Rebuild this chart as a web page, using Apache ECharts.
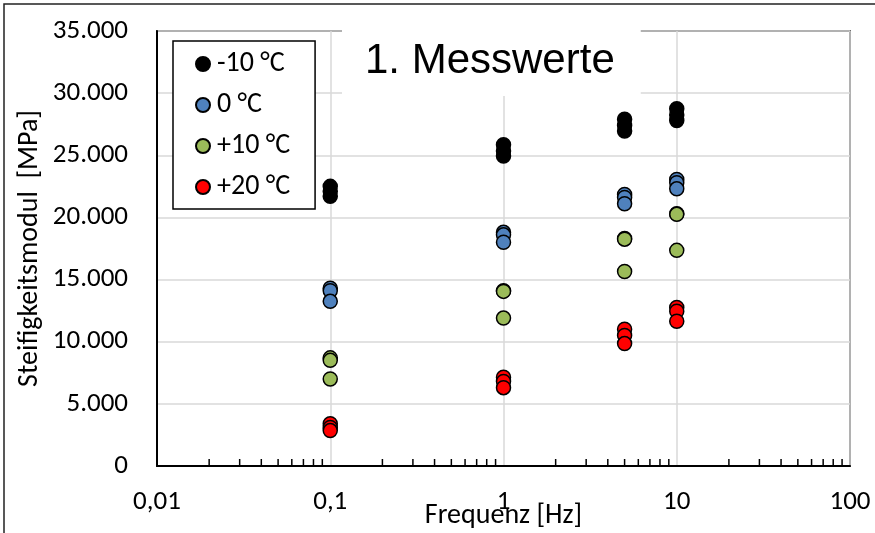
<!DOCTYPE html>
<html>
<head>
<meta charset="utf-8">
<script src="https://cdn.jsdelivr.net/npm/echarts@6/dist/echarts.min.js"></script>
<style>
  html, body { margin: 0; padding: 0; background: #fff; }
  #chart { width: 875px; height: 533px; }
</style>
</head>
<body>
<div id="chart"></div>
<script>
// Messwerte: [Frequenz Hz, Steifigkeitsmodul MPa]
var seriesNames = ['-10 °C', '0 °C', '+10 °C', '+20 °C'];
var seriesColors = ['#000000', '#4f81bd', '#9bbb59', '#ff0000'];

var minus10 = [[0.1, 22500], [0.1, 22100], [0.1, 21700],
               [1, 25850], [1, 25350], [1, 24950],
               [5, 27900], [5, 27400], [5, 26950],
               [10, 28750], [10, 28250], [10, 27800]];
var zero = [[0.1, 14300], [0.1, 14100], [0.1, 13250],
            [1, 18800], [1, 18600], [1, 18000],
            [5, 21850], [5, 21600], [5, 21100],
            [10, 23050], [10, 22800], [10, 22300]];
var plus10 = [[0.1, 8700], [0.1, 8500], [0.1, 7000],
              [1, 14100], [1, 14050], [1, 11900],
              [5, 18300], [5, 18250], [5, 15650],
              [10, 20300], [10, 20250], [10, 17350]];
var plus20 = [[0.1, 3400], [0.1, 3100], [0.1, 2850],
              [1, 7150], [1, 6800], [1, 6300],
              [5, 11000], [5, 10500], [5, 9850],
              [10, 12750], [10, 12450], [10, 11650]];

// kleine Teilstriche der log-Achse
var minorTickVals = [0.02, 0.03, 0.04, 0.05, 0.06, 0.07, 0.08, 0.09,
                     0.2, 0.3, 0.4, 0.5, 0.6, 0.7, 0.8, 0.9,
                     2, 3, 4, 5, 6, 7, 8, 9,
                     20, 30, 40, 50, 60, 70, 80, 90];

var font = "Carlito, 'Open Sans', sans-serif";
var chart = echarts.init(document.getElementById('chart'), null, { renderer: 'canvas' });

function scatter(name, data, color) {
  return {
    name: name,
    type: 'scatter',
    data: data,
    symbol: 'circle',
    symbolSize: 14,
    itemStyle: { color: color, borderColor: '#000', borderWidth: 1.5, opacity: 1 },
    z: 3
  };
}

var option = {
  backgroundColor: '#fff',
  animation: false,
  textStyle: { fontFamily: font },
  title: {
    text: '1. Messwerte',
    left: 342,
    top: 28,
    padding: [7, 26, 9, 23],
    backgroundColor: '#fff',
    textStyle: {
      fontFamily: "'Liberation Sans', Arial, sans-serif",
      fontSize: 42,
      fontWeight: 'normal',
      color: '#000',
      lineHeight: 52
    },
    z: 10
  },
  legend: {
    data: seriesNames,
    orient: 'vertical',
    left: 173,
    top: 41,
    padding: [9, 25, 8, 22],
    itemGap: 13,
    itemWidth: 14,
    itemHeight: 14,
    backgroundColor: '#fff',
    borderColor: '#000',
    borderWidth: 1.5,
    borderRadius: 0,
    textStyle: { fontFamily: font, fontSize: 28, color: '#000', padding: [0, 0, 0, 2] }
  },
  grid: {
    left: 157,
    right: 25,
    top: 31,
    bottom: 67,
    show: true,
    borderColor: '#000',
    borderWidth: 1.5,
    outerBoundsMode: 'none',
    containLabel: false
  },
  xAxis: {
    type: 'log',
    logBase: 10,
    min: 0.01,
    max: 100,
    name: 'Frequenz [Hz]',
    nameLocation: 'middle',
    nameGap: 36,
    nameMoveOverlap: false,
    nameTextStyle: { fontFamily: font, fontSize: 28, color: '#000' },
    axisLine: { show: true, lineStyle: { color: '#000', width: 2 } },
    axisTick: { show: false },
    axisLabel: {
      margin: 23,
      fontFamily: font,
      fontSize: 27,
      color: '#000',
      formatter: function (v) { return String(v).replace('.', ','); }
    },
    splitLine: { show: true, lineStyle: { color: '#d9d9d9', width: 1.5 } },
    minorTick: { show: false }
  },
  yAxis: {
    type: 'value',
    min: 0,
    max: 35000,
    interval: 5000,
    name: 'Steifigkeitsmodul  [MPa]',
    nameLocation: 'middle',
    nameGap: 113,
    nameMoveOverlap: false,
    nameTextStyle: { fontFamily: font, fontSize: 28, color: '#000' },
    axisLine: { show: true, lineStyle: { color: '#000', width: 2 } },
    axisTick: { show: false },
    axisLabel: {
      margin: 29,
      fontFamily: font,
      fontSize: 27,
      color: '#000',
      formatter: function (v) { return v === 0 ? '0' : (v / 1000).toFixed(3); }
    },
    splitLine: { show: true, lineStyle: { color: '#d9d9d9', width: 1.5 } }
  },
  graphic: [{
    type: 'rect',
    shape: { x: 4, y: 4, width: 1000, height: 1000 },
    style: { fill: 'none', stroke: '#222', lineWidth: 1.5 },
    silent: true,
    z: 100
  }],
  series: [
    scatter(seriesNames[0], minus10, seriesColors[0]),
    scatter(seriesNames[1], zero, seriesColors[1]),
    scatter(seriesNames[2], plus10, seriesColors[2]),
    scatter(seriesNames[3], plus20, seriesColors[3]),
    {
      type: 'custom',
      silent: true,
      data: minorTickVals.map(function (v) { return [v, 0]; }),
      renderItem: function (params, api) {
        var p = api.coord([api.value(0), 0]);
        return {
          type: 'line',
          shape: { x1: p[0], y1: p[1], x2: p[0], y2: p[1] - 7 },
          style: { stroke: '#000', lineWidth: 1.5 }
        };
      },
      z: 2
    }
  ]
};

chart.setOption(option);
</script>
</body>
</html>
